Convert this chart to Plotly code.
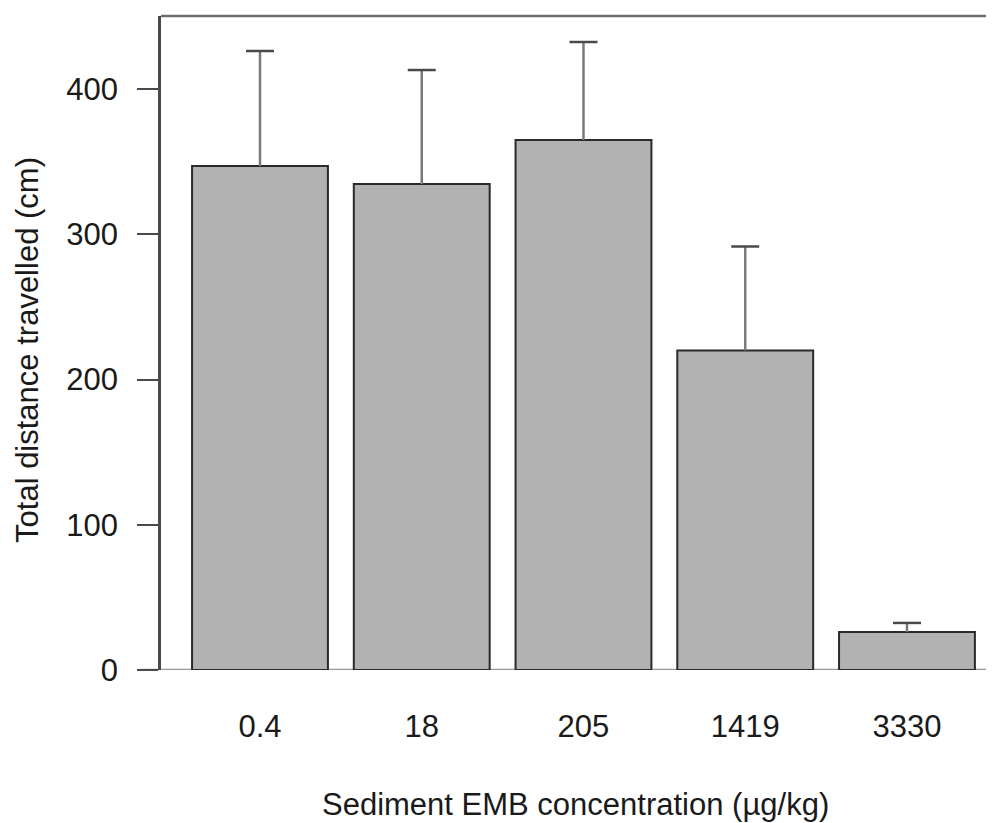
import plotly.graph_objects as go

# ---- data ----
categories = ["0.4", "18", "205", "1419", "3330"]
mean_distance = [347.0, 334.6, 364.9, 220.0, 26.2]
upper_error = [79.2, 78.5, 67.5, 71.6, 6.2]
y_ticks = [0, 100, 200, 300, 400]

FONT = "Liberation Sans, Arial, Helvetica, sans-serif"
TXT = "#1a1a1a"
FS = 31

xpos = list(range(len(categories)))

fig = go.Figure()

fig.add_trace(go.Bar(
    x=xpos, y=mean_distance, width=0.84,
    marker=dict(color="#b2b2b2", line=dict(color="#2a2a2a", width=2)),
    showlegend=False, hoverinfo="skip",
))

# error bar stems (upward only)
stem_x, stem_y = [], []
for i, (m, e) in enumerate(zip(mean_distance, upper_error)):
    stem_x += [i, i, None]
    stem_y += [m, m + e, None]
fig.add_trace(go.Scatter(
    x=stem_x, y=stem_y, mode="lines",
    line=dict(color="#7a7a7a", width=2.5),
    showlegend=False, hoverinfo="skip",
))
# caps
fig.add_trace(go.Scatter(
    x=xpos, y=[m + e for m, e in zip(mean_distance, upper_error)],
    mode="markers",
    marker=dict(symbol="line-ew", size=20, line=dict(color="#4a4a4a", width=2.5)),
    showlegend=False, hoverinfo="skip",
))

fig.update_layout(
    width=986, height=815,
    margin=dict(l=153, r=0, t=8, b=153, pad=0),
    paper_bgcolor="white", plot_bgcolor="white",
    font=dict(family=FONT, size=FS, color=TXT),
    xaxis=dict(
        range=[-0.612, 4.538], tickmode="array", tickvals=xpos, ticktext=categories,
        showline=False, showgrid=False, zeroline=False, ticks="",
        ticklabelstandoff=35, tickfont=dict(family=FONT, size=FS, color=TXT),
        fixedrange=True,
    ),
    yaxis=dict(
        range=[0, 450.3], tickmode="array", tickvals=y_ticks,
        ticktext=[str(v) for v in y_ticks],
        showline=True, linecolor="#4a4a4a", linewidth=2.5,
        ticks="outside", ticklen=21, tickwidth=2, tickcolor="#4a4a4a",
        showgrid=False, zeroline=False, ticklabelstandoff=13,
        tickfont=dict(family=FONT, size=FS, color=TXT),
        fixedrange=True,
    ),
    shapes=[
        # top frame line
        dict(type="line", xref="paper", yref="paper", x0=0, x1=1, y0=1, y1=1,
             line=dict(color="#6e6e6e", width=2.5)),
        # baseline at zero
        dict(type="line", xref="paper", yref="y", x0=-0.0252, x1=1, y0=0, y1=0,
             line=dict(color="#9a9a9a", width=2.5), layer="below"),
    ],
    annotations=[
        dict(text="Sediment EMB concentration (\u00b5g/kg)", xref="paper", yref="paper",
             x=0.497, y=-0.2064, xanchor="center", yanchor="middle", showarrow=False,
             font=dict(family=FONT, size=FS, color=TXT)),
        dict(text="Total distance travelled (cm)", xref="paper", yref="paper",
             x=-0.1597, y=0.4893, xanchor="center", yanchor="middle", showarrow=False,
             textangle=-90, font=dict(family=FONT, size=FS, color=TXT)),
    ],
)

fig.write_html("out.html")
